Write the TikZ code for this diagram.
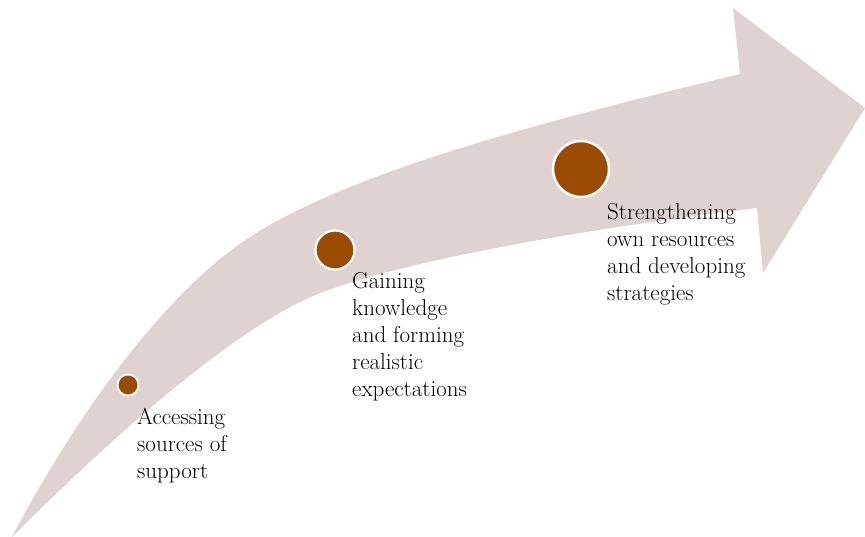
\documentclass[tikz,border=0pt]{standalone}
\usepackage{fontspec}
\definecolor{bandcol}{RGB}{223,211,209}
\definecolor{dotcol}{RGB}{155,76,0}
\begin{document}
\begin{tikzpicture}[x=1pt,y=-1pt,
  band/.style={fill=bandcol},
  dot/.style={circle,fill=dotcol,draw=white,line width=2pt,inner sep=0pt},
  lbl/.style={anchor=north west,inner sep=0pt,align=left,font=\fontsize{23}{27}\selectfont}]
\useasboundingbox (0,0) rectangle (865,537);
\fill[band] (12,537) .. controls (82,404) and (170,289) .. (250,237)
  .. controls (350,172) and (540,122) .. (740,74)
  -- (733,8) -- (865,108) -- (763,273) -- (757,208)
  .. controls (607,226) and (380,262) .. (300,302)
  .. controls (220,342) and (112,437) .. (12,537) -- cycle;
\node[dot,minimum size=21pt,line width=1.8pt] (c1) at (128,385) {};
\node[dot,minimum size=39pt,line width=2.2pt] (c2) at (335,250) {};
\node[dot,minimum size=56pt,line width=2.5pt] (c3) at (581,169) {};
\node[lbl] (t1) at (137,408) {Accessing\\sources of\\support};
\node[lbl] (t2) at (352,272) {Gaining\\knowledge\\and forming\\realistic\\expectations};
\node[lbl] (t3) at (607,203) {Strengthening\\own resources\\and developing\\strategies};
\end{tikzpicture}
\end{document}
